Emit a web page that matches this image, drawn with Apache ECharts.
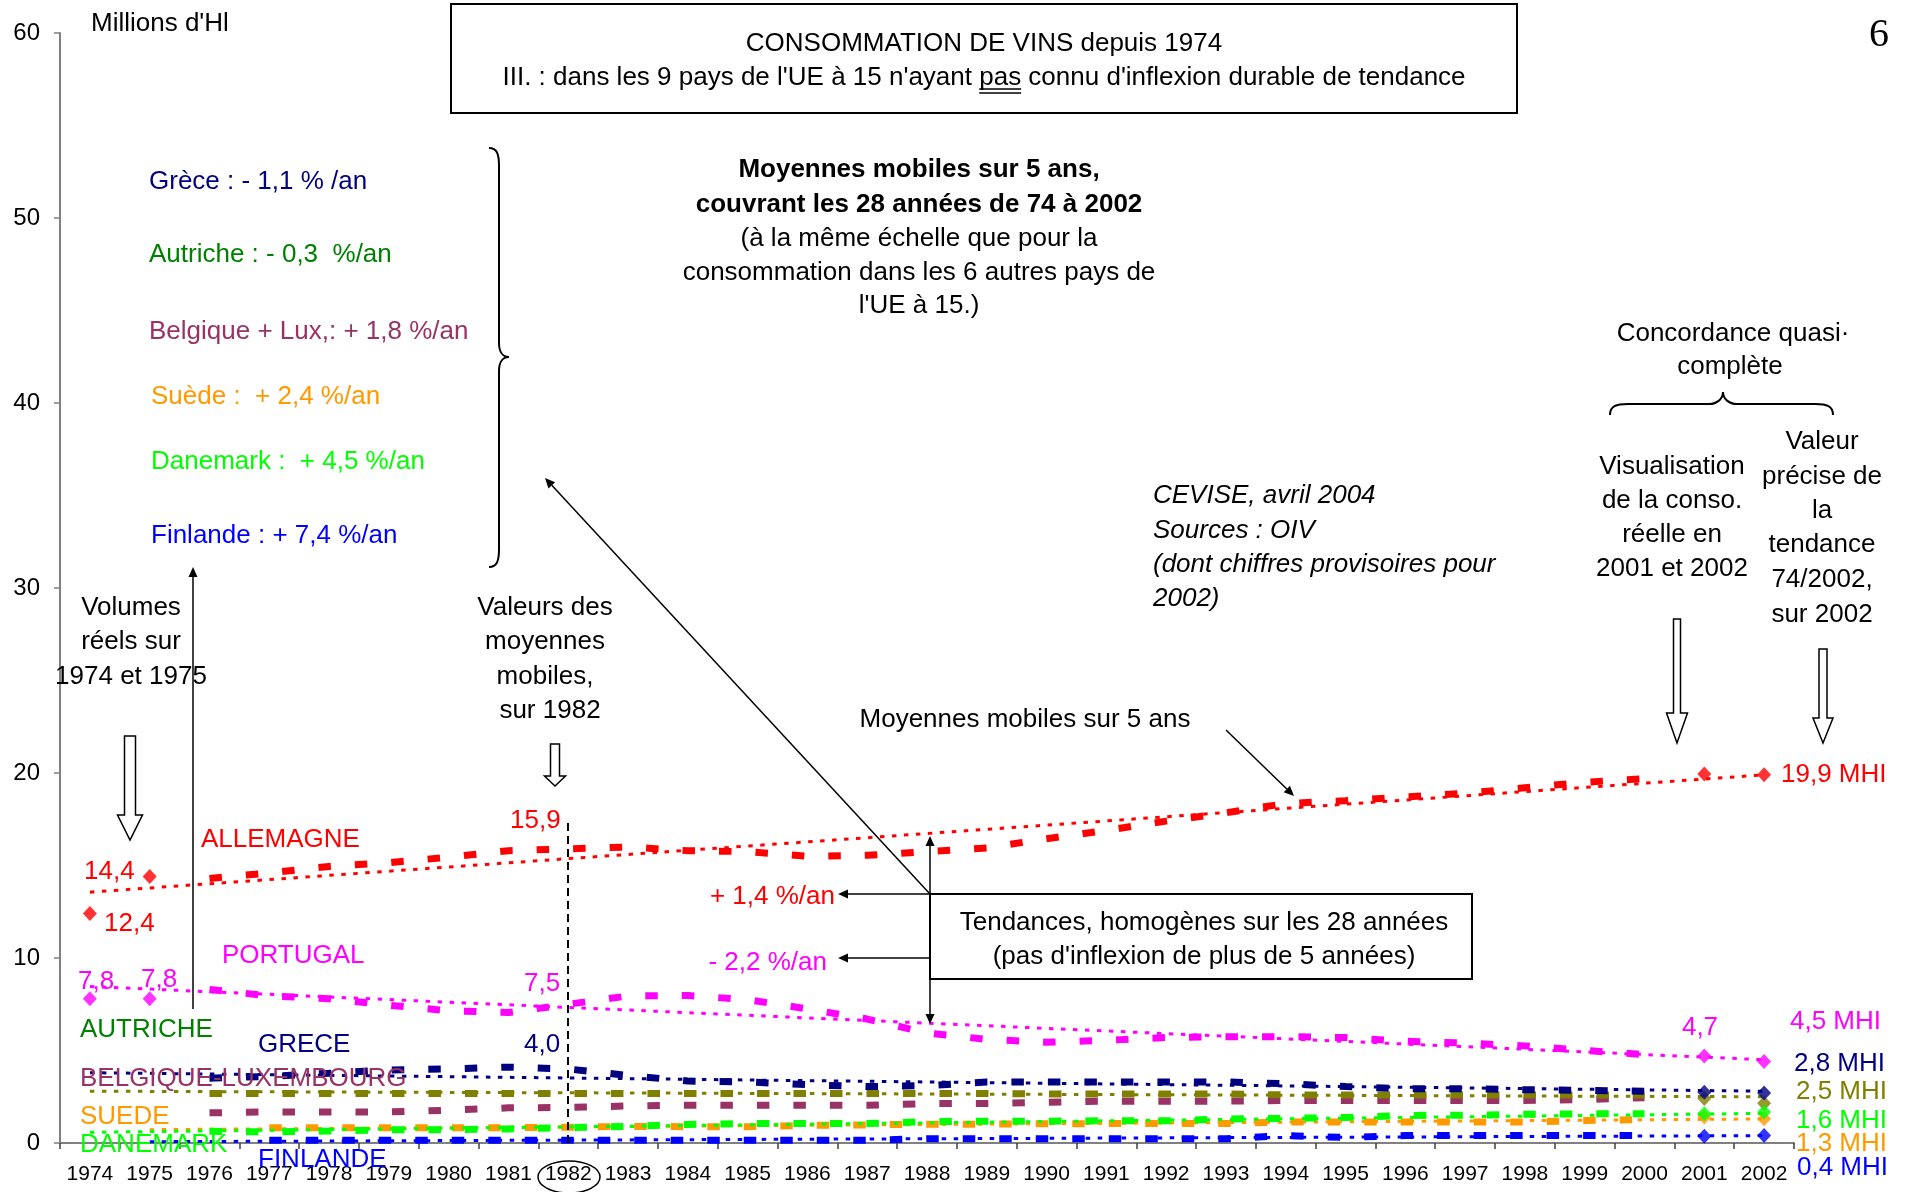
<!DOCTYPE html>
<html>
<head>
<meta charset="utf-8">
<title>Consommation de vins depuis 1974</title>
<script src="https://cdn.jsdelivr.net/npm/echarts@6.0.0/dist/echarts.min.js"></script>
<style>
  html, body { margin: 0; padding: 0; background: #fff; }
  #chart { width: 1907px; height: 1192px; }
</style>
</head>
<body>
<div id="chart"></div>
<script>
// axe des x : années
const annees = ['1974', '1975', '1976', '1977', '1978', '1979', '1980', '1981', '1982', '1983',
  '1984', '1985', '1986', '1987', '1988', '1989', '1990', '1991', '1992', '1993',
  '1994', '1995', '1996', '1997', '1998', '1999', '2000', '2001', '2002'];
// axe des y
const yTicks = [0, 10, 20, 30, 40, 50, 60];

// moyennes mobiles sur 5 ans (millions d'hl), centrées 1976 -> 2000
const moyAllemagne = [null, null, 14.3, 14.6, 14.95, 15.15, 15.45, 15.8, 15.9, 16.0, 15.8, 15.75, 15.5, 15.55, 15.75, 15.95, 16.45, 16.9, 17.4, 17.85, 18.35, 18.5, 18.7, 18.9, 19.2, 19.5, 19.7, null, null];
const moyPortugal = [null, null, 8.3, 7.95, 7.8, 7.45, 7.15, 7.05, 7.5, 7.95, 7.97, 7.75, 7.25, 6.7, 5.95, 5.6, 5.45, 5.55, 5.7, 5.75, 5.75, 5.7, 5.5, 5.4, 5.25, 5.0, 4.78, null, null];
const moyGrece = [null, null, 3.5, 3.6, 3.77, 3.95, 4.0, 4.1, 4.0, 3.65, 3.35, 3.3, 3.15, 3.05, 3.1, 3.3, 3.3, 3.3, 3.3, 3.3, 3.2, 3.05, 2.93, 2.93, 2.88, 2.85, 2.8, null, null];
const moyAutriche = [null, null, 2.68, 2.68, 2.68, 2.68, 2.68, 2.68, 2.68, 2.68, 2.68, 2.68, 2.68, 2.68, 2.68, 2.68, 2.65, 2.65, 2.65, 2.65, 2.6, 2.6, 2.6, 2.6, 2.6, 2.6, 2.6, null, null];
const moyBelgique = [null, null, 1.63, 1.68, 1.68, 1.68, 1.77, 1.9, 1.92, 2.0, 2.04, 2.04, 2.04, 2.04, 2.13, 2.13, 2.2, 2.26, 2.26, 2.26, 2.3, 2.3, 2.3, 2.3, 2.3, 2.35, 2.45, null, null];
const moySuede = [null, null, null, 0.83, 0.83, 0.83, 0.83, 0.83, 0.85, 0.9, 0.88, 0.88, 0.95, 0.98, 1.02, 1.02, 1.04, 1.05, 1.05, 1.05, 1.13, 1.13, 1.13, 1.13, 1.13, 1.22, 1.27, null, null];
const moyDanemark = [null, null, 0.63, 0.6, 0.65, 0.72, 0.72, 0.76, 0.83, 0.9, 1.0, 1.05, 1.05, 1.05, 1.15, 1.18, 1.18, 1.2, 1.2, 1.3, 1.33, 1.38, 1.49, 1.5, 1.55, 1.58, 1.58, null, null];
const moyFinlande = [null, null, null, 0.15, 0.15, 0.15, 0.15, 0.15, 0.15, 0.15, 0.15, 0.15, 0.15, 0.15, 0.23, 0.23, 0.23, 0.23, 0.23, 0.23, 0.4, 0.3, 0.4, 0.4, 0.4, 0.4, 0.4, null, null];

// volumes réels (1974, 1975, 2001, 2002)
const reelAllemagne = [['1974', 12.4], ['1975', 14.4], ['2001', 19.95], ['2002', 19.9]];
const reelPortugal = [['1974', 7.8], ['1975', 7.8], ['2001', 4.7], ['2002', 4.4]];
const reelGrece = [['2001', 2.75], ['2002', 2.7]];
const reelAutriche = [['2001', 2.4], ['2002', 2.15]];
const reelSuede = [['2001', 1.4], ['2002', 1.31]];
const reelDanemark = [['2001', 1.58], ['2002', 1.67]];
const reelFinlande = [['2001', 0.36], ['2002', 0.41]];

// tendances 74/2002
const tendAllemagne = [['1974', 13.56], ['2002', 19.9]];
const tendPortugal = [['1974', 8.46], ['2002', 4.5]];
const tendGrece = [['1974', 3.8], ['2002', 2.8]];
const tendAutriche = [['1974', 2.8], ['2002', 2.5]];
const tendSuede = [['1975', 0.72], ['2002', 1.3]];
const tendDanemark = [['1974', 0.58], ['2002', 1.6]];
const tendFinlande = [['1975', 0.07], ['2002', 0.4]];

const F = '"Liberation Sans", Arial, sans-serif';
const ROUGE = '#FF0000', ROSE = '#FF00FF', MARINE = '#000080', OLIVE = '#808000',
  PRUNE = '#993366', ORANGE = '#FF9900', VERT = '#00FF00', BLEU = '#0000FF', VERTF = '#008000';

function moy(name, data, color, z) {
  return { name: name, type: 'line', data: data, z: z, symbol: 'none', silent: true,
    lineStyle: { color: color, width: 7, type: [12.5, 24], cap: 'butt' } };
}
function tend(name, data, color, z) {
  return { name: name + ' tendance', type: 'line', data: data, z: z, symbol: 'none', silent: true,
    lineStyle: { color: color, width: 3, type: [4.5, 7.5], cap: 'butt' } };
}
function reel(name, data, color, z) {
  return { name: name + ' réel', type: 'scatter', data: data, z: z, symbol: 'diamond',
    symbolSize: [14, 15], silent: true, itemStyle: { color: color } };
}

// --- annotations ---
const DY = 2; // petit décalage vertical des textes
function txt(x, y, s, color, size, extra) {
  const st = Object.assign({
    text: s, fill: color || '#000',
    font: (size || 26) + 'px ' + F,
    align: 'left', textAlign: 'left', verticalAlign: 'middle', textVerticalAlign: 'middle'
  }, extra || {});
  if (st.align !== st.textAlign) st.textAlign = st.align;
  return { type: 'text', x: x, y: y + DY, z: 100, silent: true, style: st };
}
function ctxt(x, y, s, color, size, extra) {
  return txt(x, y, s, color, size, Object.assign({ align: 'center', textAlign: 'center' }, extra || {}));
}
function rtxt(x, y, s, color, size) {
  return txt(x, y, s, color, size, { align: 'right', textAlign: 'right' });
}
function ligne(x1, y1, x2, y2, w, dash) {
  return { type: 'line', z: 90, silent: true, shape: { x1: x1, y1: y1, x2: x2, y2: y2 },
    style: { stroke: '#000', lineWidth: w || 1.5, lineDash: dash || null } };
}
function fleche(x1, y1, x2, y2) {
  const a = Math.atan2(y2 - y1, x2 - x1), L = 10, H = 4.5;
  const bx = x2 - L * Math.cos(a), by = y2 - L * Math.sin(a);
  return [
    ligne(x1, y1, bx, by, 1.5),
    { type: 'polygon', z: 90, silent: true, shape: { points: [[x2, y2],
      [bx + H * Math.sin(a), by - H * Math.cos(a)], [bx - H * Math.sin(a), by + H * Math.cos(a)]] },
      style: { fill: '#000' } }
  ];
}
function flecheCreuse(cx, yT, yB, w, W, h) {
  return { type: 'polygon', z: 90, silent: true, shape: { points: [
    [cx - w / 2, yT], [cx + w / 2, yT], [cx + w / 2, yB - h], [cx + W / 2, yB - h],
    [cx, yB], [cx - W / 2, yB - h], [cx - w / 2, yB - h]] },
    style: { fill: '#fff', stroke: '#000', lineWidth: 1.5 } };
}
function bez(x1, y1, c1x, c1y, c2x, c2y, x2, y2) {
  return { type: 'bezierCurve', z: 90, silent: true,
    shape: { x1: x1, y1: y1, cpx1: c1x, cpy1: c1y, cpx2: c2x, cpy2: c2y, x2: x2, y2: y2 },
    style: { stroke: '#000', lineWidth: 2, fill: null } };
}

// soulignement double de "pas"
const cv = document.createElement('canvas').getContext('2d');
cv.font = '26px ' + F;
const ligne2 = "III. : dans les 9 pays de l'UE à 15 n'ayant pas connu d'inflexion durable de tendance";
const xT = 984;
const xPas = xT - cv.measureText(ligne2).width / 2 + cv.measureText("III. : dans les 9 pays de l'UE à 15 n'ayant ").width;
const wPas = cv.measureText('pas').width;

const graphics = [
  // cadre du titre
  { type: 'rect', z: 80, silent: true, shape: { x: 451, y: 4, width: 1066, height: 109 },
    style: { fill: '#fff', stroke: '#000', lineWidth: 2 } },
  ctxt(xT, 42, 'CONSOMMATION DE VINS depuis 1974'),
  ctxt(xT, 76, ligne2),
  ligne(xPas, 89, xPas + wPas, 89, 1.5),
  ligne(xPas, 93, xPas + wPas, 93, 1.5),
  txt(91, 22, "Millions d'Hl"),
  ctxt(1879, 33, '6', '#000', 40, { font: '40px "Liberation Serif", "DejaVu Serif", serif' }),

  // taux annuels
  txt(149, 180, 'Grèce : - 1,1 % /an', MARINE),
  txt(149, 253, 'Autriche : - 0,3  %/an', VERTF),
  txt(149, 330, 'Belgique + Lux,: + 1,8 %/an', PRUNE),
  txt(151, 395, 'Suède :  + 2,4 %/an', ORANGE),
  txt(151, 460, 'Danemark :  + 4,5 %/an', VERT),
  txt(151, 534, 'Finlande : + 7,4 %/an', BLEU),
  // accolade verticale
  bez(489, 148, 497, 148, 499, 154, 499, 166),
  ligne(499, 166, 499, 343, 2),
  bez(499, 343, 499, 352, 503, 357, 509, 357),
  bez(509, 357, 503, 357, 499, 362, 499, 371),
  ligne(499, 371, 499, 549, 2),
  bez(499, 549, 499, 561, 497, 567, 489, 567),

  // texte central
  ctxt(919, 168, 'Moyennes mobiles sur 5 ans,', '#000', 26, { font: 'bold 26px ' + F }),
  ctxt(919, 203, 'couvrant les 28 années de 74 à 2002', '#000', 26, { font: 'bold 26px ' + F }),
  ctxt(919, 237, '(à la même échelle que pour la'),
  ctxt(919, 271, 'consommation dans les 6 autres pays de'),
  ctxt(919, 304, "l'UE à 15.)"),

  // sources
  txt(1153, 494, 'CEVISE, avril 2004', '#000', 26, { font: 'italic 26px ' + F }),
  txt(1153, 529, 'Sources : OIV', '#000', 26, { font: 'italic 26px ' + F }),
  txt(1153, 563, '(dont chiffres provisoires pour', '#000', 26, { font: 'italic 26px ' + F }),
  txt(1153, 597, '2002)', '#000', 26, { font: 'italic 26px ' + F }),

  // concordance
  ctxt(1733, 332, 'Concordance quasi·'),
  ctxt(1730, 365, 'complète'),
  bez(1610, 415, 1610, 406, 1616, 404, 1628, 404),
  ligne(1628, 404, 1709, 404, 2),
  bez(1709, 404, 1717, 404, 1723, 399, 1723, 392),
  bez(1723, 392, 1723, 399, 1729, 404, 1737, 404),
  ligne(1737, 404, 1815, 404, 2),
  bez(1815, 404, 1827, 404, 1833, 406, 1833, 415),
  ctxt(1672, 465, 'Visualisation'),
  ctxt(1672, 499, 'de la conso.'),
  ctxt(1672, 533, 'réelle en'),
  ctxt(1672, 567, '2001 et 2002'),
  ctxt(1822, 440, 'Valeur'),
  ctxt(1822, 475, 'précise de'),
  ctxt(1822, 509, 'la'),
  ctxt(1822, 543, 'tendance'),
  ctxt(1822, 578, '74/2002,'),
  ctxt(1822, 613, 'sur 2002'),
  flecheCreuse(1677, 619, 743, 7, 21, 30),
  flecheCreuse(1823, 649, 743, 8, 20, 25),

  // volumes réels / valeurs 1982
  ctxt(131, 606, 'Volumes'),
  ctxt(131, 640, 'réels sur'),
  ctxt(131, 675, '1974 et 1975'),
  flecheCreuse(130, 736, 840, 11, 25, 25),
  ctxt(545, 606, 'Valeurs des'),
  ctxt(545, 640, 'moyennes'),
  ctxt(545, 675, 'mobiles,'),
  ctxt(550, 709, 'sur 1982'),
  flecheCreuse(555, 744, 786, 9, 21, 10),

  // flèche verticale vers l'accolade
  ...fleche(193, 1009, 193, 567),

  // moyennes mobiles
  ctxt(1025, 718, 'Moyennes mobiles sur 5 ans'),
  ...fleche(1226, 730, 1294, 796),

  // tendances
  { type: 'rect', z: 80, silent: true, shape: { x: 930, y: 894, width: 542, height: 85 },
    style: { fill: '#fff', stroke: '#000', lineWidth: 2 } },
  ctxt(1204, 921, 'Tendances, homogènes sur les 28 années'),
  ctxt(1204, 955, "(pas d'inflexion de plus de 5 années)"),
  ...fleche(930, 894, 545, 478),
  ...fleche(930, 894, 838, 894),
  ...fleche(930, 958, 838, 958),
  ...fleche(930, 894, 930, 836),
  ...fleche(930, 979, 930, 1024),
  rtxt(835, 895, '+ 1,4 %/an', ROUGE),
  rtxt(827, 961, '- 2,2 %/an', ROSE),

  // étiquettes des séries
  txt(201, 838, 'ALLEMAGNE', ROUGE),
  txt(84, 870, '14,4', ROUGE),
  txt(104, 922, '12,4', ROUGE),
  txt(510, 819, '15,9', ROUGE),
  txt(222, 954, 'PORTUGAL', ROSE),
  txt(78, 980, '7,8', ROSE),
  txt(141, 978, '7,8', ROSE),
  txt(524, 982, '7,5', ROSE),
  txt(80, 1028, 'AUTRICHE', VERTF),
  txt(258, 1043, 'GRECE', MARINE),
  txt(524, 1043, '4,0', MARINE),
  txt(80, 1077, 'BELGIQUE-LUXEMBOURG', PRUNE),
  txt(80, 1115, 'SUEDE', ORANGE),
  txt(80, 1143, 'DANEMARK', VERT),
  txt(258, 1158, 'FINLANDE', BLEU),

  // valeurs à droite
  txt(1781, 773, '19,9 MHI', ROUGE),
  ctxt(1700, 1026, '4,7', ROSE),
  txt(1790, 1020, '4,5 MHI', ROSE),
  txt(1794, 1062, '2,8 MHI', MARINE),
  txt(1796, 1090, '2,5 MHI', OLIVE),
  txt(1796, 1119, '1,6 MHI', VERT),
  txt(1796, 1142, '1,3 MHI', ORANGE),
  txt(1797, 1166, '0,4 MHI', BLEU),

  // cercle autour de 1982
  { type: 'ellipse', z: 90, silent: true, shape: { cx: 569, cy: 1177, rx: 31, ry: 16 },
    style: { fill: null, stroke: '#000', lineWidth: 1.5 } }
];

const chart = echarts.init(document.getElementById('chart'), null, { renderer: 'canvas' });
chart.setOption({
  animation: false,
  backgroundColor: '#fff',
  grid: { left: 60, right: 113, top: 33, bottom: 49, containLabel: false, outerBoundsMode: 'none' },
  xAxis: {
    type: 'category', data: annees, boundaryGap: true,
    axisLine: { show: true, lineStyle: { color: '#808080', width: 2 } },
    axisTick: { show: true, length: 6, interval: 0, lineStyle: { color: '#404040', width: 1.5 } },
    axisLabel: { color: '#000', fontSize: 21, fontFamily: F, margin: 21, interval: 0 },
    splitLine: { show: false }
  },
  yAxis: {
    type: 'value', min: yTicks[0], max: yTicks[yTicks.length - 1], interval: yTicks[1] - yTicks[0],
    axisLine: { show: true, lineStyle: { color: '#808080', width: 2 } },
    axisTick: { show: true, length: 6, lineStyle: { color: '#808080', width: 1.5 } },
    axisLabel: { color: '#000', fontSize: 24, fontFamily: F, margin: 20 },
    splitLine: { show: false }
  },
  series: [
    moy('Belgique-Luxembourg', moyBelgique, PRUNE, 2),
    tend('Autriche', tendAutriche, OLIVE, 3),
    moy('Autriche', moyAutriche, OLIVE, 3),
    reel('Autriche', reelAutriche, OLIVE, 4),
    tend('Suède', tendSuede, ORANGE, 3),
    moy('Suède', moySuede, ORANGE, 3),
    reel('Suède', reelSuede, ORANGE, 4),
    tend('Danemark', tendDanemark, VERT, 3),
    moy('Danemark', moyDanemark, VERT, 3),
    reel('Danemark', reelDanemark, VERT, 4),
    tend('Finlande', tendFinlande, BLEU, 3),
    moy('Finlande', moyFinlande, BLEU, 3),
    reel('Finlande', reelFinlande, BLEU, 4),
    tend('Grèce', tendGrece, MARINE, 3),
    moy('Grèce', moyGrece, MARINE, 3),
    reel('Grèce', reelGrece, MARINE, 5),
    tend('Portugal', tendPortugal, ROSE, 3),
    moy('Portugal', moyPortugal, ROSE, 3),
    reel('Portugal', reelPortugal, ROSE, 4),
    tend('Allemagne', tendAllemagne, ROUGE, 3),
    Object.assign(moy('Allemagne', moyAllemagne, ROUGE, 3), {
      markLine: { silent: true, symbol: 'none', label: { show: false },
        lineStyle: { color: '#000', width: 2, type: [8, 5] },
        data: [[{ coord: ['1982', 0] }, { coord: ['1982', 17.3] }]] }
    }),
    reel('Allemagne', reelAllemagne, ROUGE, 4)
  ],
  graphic: { elements: graphics }
});
</script>
</body>
</html>
